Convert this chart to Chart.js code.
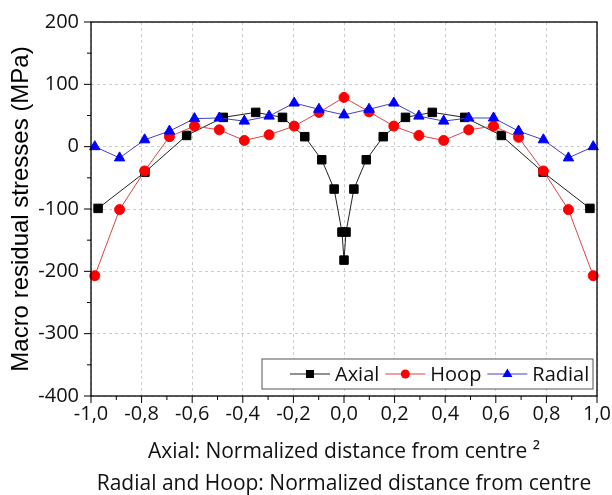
<!DOCTYPE html>
<html>
<head>
<meta charset="utf-8">
<script src="https://cdn.jsdelivr.net/npm/chart.js@4.4.1/dist/chart.umd.min.js"></script>
<style>
  html, body { margin: 0; padding: 0; background: #fff; }
  #wrap { width: 612px; height: 495px; }
</style>
</head>
<body>
<div id="wrap"><canvas id="stressChart" width="612" height="495"></canvas></div>
<script>
// values
const hoopRadialX = [-0.985, -0.887, -0.788, -0.69, -0.591, -0.493, -0.394, -0.296, -0.197, -0.099, 0,
  0.099, 0.197, 0.296, 0.394, 0.493, 0.591, 0.69, 0.788, 0.887, 0.985];
const hoopY = [-207, -101, -39, 16, 33, 27, 10, 19, 33, 55, 79, 56, 33, 18, 10, 27, 33, 15, -39, -101, -207];
const radialY = [0, -18, 11, 25, 45, 46, 41, 49, 70, 60, 51, 60, 70, 49, 41, 46, 46, 25, 11, -18, 0];

const axialX = [-0.972, -0.787, -0.622, -0.477, -0.349, -0.243, -0.155, -0.088, -0.039, -0.008, 0,
  0.008, 0.039, 0.088, 0.155, 0.243, 0.349, 0.477, 0.622, 0.787, 0.972];
const axialY = [-99, -41, 18, 47, 55, 47, 16, -21, -68, -137, -182, -137, -68, -21, 16, 47, 55, 47, 18, -41, -99];

const seriesNames = ['Axial', 'Hoop', 'Radial'];
const xTitle = ['Axial: Normalized distance from centre \u00b2', 'Radial and Hoop: Normalized distance from centre'];
const yTitle = 'Macro residual stresses (MPa)';

const toPoints = (xs, ys) => xs.map((x, i) => ({ x: x, y: ys[i] }));

// ticks, box frame and the legend inside the plot
const framePlugin = {
  id: 'frame',
  afterDatasetsDraw(chart) {
    const ctx = chart.ctx;
    const a = chart.chartArea;
    const xs = chart.scales.x, ys = chart.scales.y;
    ctx.save();
    ctx.setLineDash([]);
    ctx.strokeStyle = '#000';
    ctx.lineWidth = 1.3;
    ctx.strokeRect(a.left, a.top, a.right - a.left, a.bottom - a.top);

    ctx.lineWidth = 1;
    ctx.beginPath();
    const xt = xs.ticks.map(t => t.value);
    for (let i = 0; i < xt.length; i++) {
      const p = xs.getPixelForValue(xt[i]);
      ctx.moveTo(p, a.bottom); ctx.lineTo(p, a.bottom + 7);
      if (i < xt.length - 1) {
        const m = xs.getPixelForValue((xt[i] + xt[i + 1]) / 2);
        ctx.moveTo(m, a.bottom); ctx.lineTo(m, a.bottom + 4);
      }
    }
    const yt = ys.ticks.map(t => t.value);
    for (let i = 0; i < yt.length; i++) {
      const p = ys.getPixelForValue(yt[i]);
      ctx.moveTo(a.left, p); ctx.lineTo(a.left - 7, p);
      if (i < yt.length - 1) {
        const m = ys.getPixelForValue((yt[i] + yt[i + 1]) / 2);
        ctx.moveTo(a.left, m); ctx.lineTo(a.left - 4, m);
      }
    }
    ctx.stroke();

    // legend
    const bx = a.left + 171, by = a.bottom - 37, bw = a.right - 4 - bx, bh = 30;
    ctx.fillStyle = '#fff';
    ctx.fillRect(bx, by, bw, bh);
    ctx.strokeStyle = '#555';
    ctx.strokeRect(bx, by, bw, bh);
    ctx.font = '20px "Open Sans"';
    ctx.textBaseline = 'middle';
    const cy = by + bh / 2;
    let x = bx + 28;
    chart.data.datasets.forEach(ds => {
      ctx.strokeStyle = ds.borderColor;
      ctx.lineWidth = 1;
      ctx.beginPath(); ctx.moveTo(x, cy); ctx.lineTo(x + 40, cy); ctx.stroke();
      drawMarker(ctx, ds.pointStyle, x + 20, cy, ds.pointBackgroundColor);
      x += 45;
      ctx.fillStyle = '#111';
      ctx.fillText(ds.label, x, cy + 1);
      x += ctx.measureText(ds.label).width + 6;
    });
    ctx.restore();
  }
};

function drawMarker(ctx, style, x, y, color) {
  ctx.fillStyle = color;
  ctx.beginPath();
  if (style === 'rect') {
    ctx.rect(x - 4, y - 4, 8, 8);
  } else if (style === 'circle') {
    ctx.arc(x, y, 4.5, 0, Math.PI * 2);
  } else {
    ctx.moveTo(x, y - 5.5); ctx.lineTo(x + 5, y + 3); ctx.lineTo(x - 5, y + 3); ctx.closePath();
  }
  ctx.fill();
}

const fmt = v => Math.abs(v) < 1e-9 ? '0,0' : v.toFixed(1).replace('.', ',');

new Chart(document.getElementById('stressChart'), {
  type: 'scatter',
  data: {
    datasets: [
      {
        label: seriesNames[0], data: toPoints(axialX, axialY), order: 3,
        borderColor: '#222', pointBackgroundColor: '#000', pointBorderColor: '#000',
        pointStyle: 'rect', pointRadius: 6
      },
      {
        label: seriesNames[1], data: toPoints(hoopRadialX, hoopY), order: 2,
        borderColor: '#d9444a', pointBackgroundColor: '#ff0000', pointBorderColor: '#ff0000',
        pointStyle: 'circle', pointRadius: 5
      },
      {
        label: seriesNames[2], data: toPoints(hoopRadialX, radialY), order: 1,
        borderColor: '#4040c8', pointBackgroundColor: '#0000ff', pointBorderColor: '#0000ff',
        pointStyle: 'triangle', pointRadius: 6
      }
    ].map(d => Object.assign(d, { showLine: true, borderWidth: 1, pointBorderWidth: 1, clip: false }))
  },
  options: {
    responsive: false,
    animation: false,
    layout: { padding: { left: 0, right: 15, top: 22, bottom: 0 } },
    plugins: { legend: { display: false }, tooltip: { enabled: false } },
    scales: {
      x: {
        type: 'linear', min: -1, max: 1,
        ticks: { stepSize: 0.2, callback: fmt, color: '#111', padding: 6, maxRotation: 0,
          font: { family: '"Open Sans"', size: 20 } },
        grid: { color: '#cccccc', drawTicks: false },
        border: { display: false, dash: [3, 3] },
        title: { display: true, text: xTitle, color: '#111', padding: { top: 0, bottom: -5 },
          font: { family: '"Open Sans"', size: 21, lineHeight: '32px' } },
        afterFit(s) { s.height = 99; s.paddingLeft = 0; s.paddingRight = 0; }
      },
      y: {
        min: -400, max: 200,
        ticks: { stepSize: 100, color: '#111', padding: 12, font: { family: '"Open Sans"', size: 20 } },
        grid: { color: '#cccccc', drawTicks: false },
        border: { display: false, dash: [3, 3] },
        title: { display: true, text: yTitle, color: '#000', padding: { top: 7, bottom: 0 },
          font: { family: '"Liberation Sans", Arial', size: 24 } },
        afterFit(s) { s.width = 91; s.paddingTop = 0; s.paddingBottom = 0; }
      }
    }
  },
  plugins: [framePlugin]
});
</script>
</body>
</html>
